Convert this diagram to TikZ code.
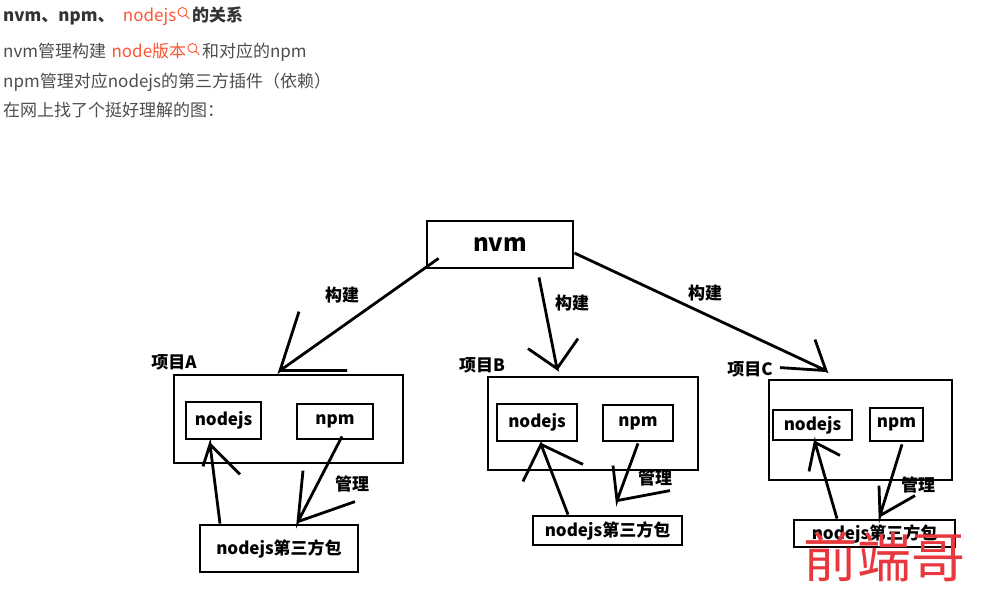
\documentclass[tikz,border=0pt]{standalone}
\usepackage{fontspec}
\setmainfont{Noto Sans CJK SC}
\usepackage{xcolor}
\definecolor{csdnred}{HTML}{FC5531}
\definecolor{textgray}{HTML}{4D4D4D}
\definecolor{brandred}{HTML}{E8383D}
\usetikzlibrary{positioning}

\begin{document}
\begin{tikzpicture}[x=1pt,y=-1pt,
	box/.style={draw,line width=2.8pt,inner sep=0pt,font=\fontsize{17}{20}\selectfont\bfseries},
	tag/.style={inner sep=0pt,font=\fontsize{17}{20}\selectfont\bfseries},
	stroke/.style={line width=2.8pt},
	txt/.style={anchor=base west,inner sep=0pt,text=textgray,font=\fontsize{17}{20}\selectfont},
	link/.style={txt,text=csdnred},
	lens/.style={txt,minimum width=15pt},
	magnifier/.style={csdnred,line width=0.9pt}]
\useasboundingbox (0,0) rectangle (983,593);

% text above the picture
\node[txt,text=black!80,font=\fontsize{17}{20}\selectfont\bfseries] (title) at (3,22) {nvm、npm、\kern8pt};
\node[link] (titlelink) at (title.base east) {nodejs};
\node[lens] (lens1) at (titlelink.base east) {};
\node[txt,text=black!80,font=\fontsize{17}{20}\selectfont\bfseries] (titleend) at (lens1.base east) {的关系};
\node[txt] (line1) at (3,58) {nvm管理构建\kern5pt};
\node[link] (line1link) at (line1.base east) {node版本};
\node[lens] (lens2) at (line1link.base east) {};
\node[txt] (line1end) at (lens2.base east) {和对应的npm};
\node[txt] (line2) at (3,88) {npm管理对应nodejs的第三方插件（依赖）};
\node[txt] (line3) at (3,117) {在网上找了个挺好理解的图：};
\draw[magnifier] ([shift={(6,-10)}]lens1.base west) circle (4.5pt) ++(3.2,3.2) -- ++(3.5,3.5);
\draw[magnifier] ([shift={(6,-10)}]lens2.base west) circle (4.5pt) ++(3.2,3.2) -- ++(3.5,3.5);

% boxes
\node[box,minimum width=146pt,minimum height=47pt,font=\fontsize{24}{28}\selectfont\bfseries] (nvm) at (500,244.5) {nvm};

\node[box,minimum width=229pt,minimum height=88pt] (projA) at (288.5,419) {};
\node[box,minimum width=75pt,minimum height=37pt] (nodejsA) at (223.5,420.5) {nodejs};
\node[box,minimum width=76pt,minimum height=35pt] (npmA) at (335,421.5) {npm};
\node[box,minimum width=158pt,minimum height=47pt] (pkgA) at (279,548.5) {nodejs第三方包};

\node[box,minimum width=210pt,minimum height=93pt] (projB) at (593,423.5) {};
\node[box,minimum width=80pt,minimum height=37pt] (nodejsB) at (537,422.5) {nodejs};
\node[box,minimum width=70pt,minimum height=36pt] (npmB) at (638,423) {npm};
\node[box,minimum width=149pt,minimum height=29pt] (pkgB) at (607.5,530.5) {nodejs第三方包};

\node[box,minimum width=183pt,minimum height=100pt] (projC) at (860.5,430) {};
\node[box,minimum width=79pt,minimum height=30pt] (nodejsC) at (812.5,425) {nodejs};
\node[box,minimum width=53pt,minimum height=33pt] (npmC) at (896.5,424.5) {npm};
\node[box,minimum width=161pt,minimum height=27pt] (pkgC) at (874.5,533.5) {nodejs第三方包};

% labels
\node[tag] (nameA) at (174,362) {项目A};
\node[tag] (nameB) at (482,365) {项目B};
\node[tag] (nameC) at (750,369) {项目C};
\node[tag] (buildA) at (342,295) {构建};
\node[tag] (buildB) at (572,303) {构建};
\node[tag] (buildC) at (705,293) {构建};
\node[tag] (manageA) at (352,484) {管理};
\node[tag] (manageB) at (655,478) {管理};
\node[tag] (manageC) at (918,485) {管理};

% nvm builds the projects
\coordinate (tipA) at ([shift={(-8.5,-3)}]projA.north);
\coordinate (tipB) at ([shift={(-36,-7)}]projB.north);
\coordinate (tipC) at ([shift={(-34.5,-8)}]projC.north);
\draw[stroke] ([shift={(13,-11)}]nvm.south west) -- (tipA) -- ++(19,-59) (tipA) -- ++(67,0);
\draw[stroke] ([shift={(39,8)}]nvm.south) -- (tipB) -- ++(-29,-20) (tipB) -- ++(21,-30);
\draw[stroke] ([shift={(0,8.5)}]nvm.east) -- (tipC) -- ++(-11,-31) (tipC) -- ++(-46,-3);

% packages and npm
\coordinate (upA) at ([shift={(-13.5,4)}]nodejsA.south);
\coordinate (downA) at ([shift={(19,-2)}]pkgA.north);
\draw[stroke] ([shift={(-59,0)}]pkgA.north) -- (upA) -- ++(-7,22) (upA) -- ++(30,30);
\draw[stroke] ([shift={(7,-4)}]npmA.south) -- (downA) -- ++(5,-51) (downA) -- ++(57,-20);

\coordinate (upB) at ([shift={(4,2)}]nodejsB.south);
\coordinate (downB) at ([shift={(9.5,-14)}]pkgB.north);
\draw[stroke] ([shift={(-39.5,0)}]pkgB.north) -- (upB) -- ++(-18,37) (upB) -- ++(42,20);
\draw[stroke] ([shift={(0,1)}]npmB.south) -- (downB) -- ++(-4,-35) (downB) -- ++(53,-10);

\coordinate (upC) at ([shift={(2.5,1)}]nodejsC.south);
\coordinate (downC) at ([shift={(5.5,-3)}]pkgC.north);
\draw[stroke] ([shift={(-37.5,0)}]pkgC.north) -- (upC) -- ++(-6,29) (upC) -- ++(25,13);
\draw[stroke] ([shift={(5.5,2)}]npmC.south) -- (downC) -- ++(-1,-30) (downC) -- ++(35,-20);

\node[text=brandred,inner sep=0pt,font=\fontsize{54}{58}\selectfont] (brand) at (884,557) {前端哥};
\end{tikzpicture}
\end{document}
